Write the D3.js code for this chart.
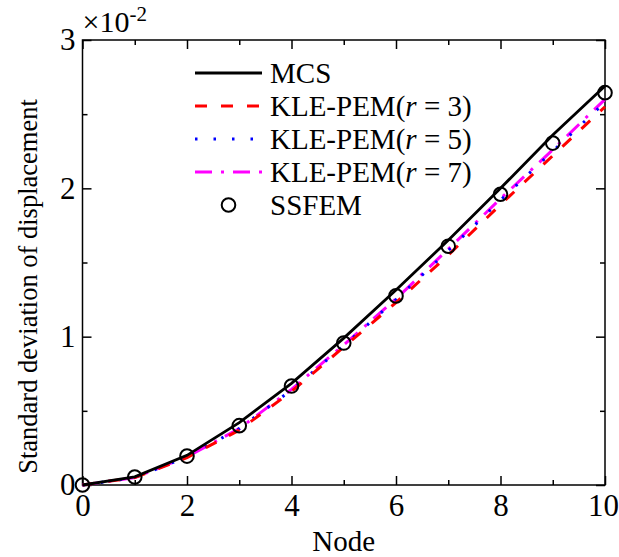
<!DOCTYPE html>
<html>
<head>
<meta charset="utf-8">
<script src="https://cdn.jsdelivr.net/npm/d3@7"></script>
<style>
  body { margin: 0; background: #fff; }
  svg text { font-family: "Liberation Serif", "Times New Roman", serif; fill: #000; }
</style>
</head>
<body>
<div id="chart"></div>
<script>
// nodes 0..10
var nodes = [0, 1, 2, 3, 4, 5, 6, 7, 8, 9, 10];
// values in units of 1e-2
var mcs   = [0, 0.055, 0.20, 0.42, 0.685, 0.99, 1.315, 1.65, 2.00, 2.36, 2.69];
var pemR3 = [0, 0.05, 0.185, 0.37, 0.63, 0.93, 1.23, 1.55, 1.89, 2.22, 2.55];
var pemR5 = [0, 0.05, 0.19, 0.38, 0.64, 0.94, 1.25, 1.58, 1.92, 2.25, 2.58];
var pemR7 = [0, 0.05, 0.19, 0.38, 0.645, 0.945, 1.255, 1.59, 1.93, 2.26, 2.60];
var ssfem = [0, 0.054, 0.195, 0.40, 0.667, 0.957, 1.275, 1.61, 1.96, 2.305, 2.645];

var xTicks = [0, 2, 4, 6, 8, 10];
var xMinor = [1, 3, 5, 7, 9];
var yTicks = [0, 1, 2, 3];
var yMinor = [0.5, 1.5, 2.5];

var seriesNames = ["MCS", "KLE-PEM(r = 3)", "KLE-PEM(r = 5)", "KLE-PEM(r = 7)", "SSFEM"];

var W = 619, H = 557;
// plot box (note: "top" is reserved on window, so use a margin object)
var box = { l: 82.5, r: 605, t: 40, b: 485 };

var svg = d3.select("#chart").append("svg")
    .attr("width", W)
    .attr("height", H);

var x = d3.scaleLinear().domain([0, 10]).range([box.l, box.r]);
var y = d3.scaleLinear().domain([0, 3]).range([box.b, box.t]);

var fontSize = 29;
var tickFont = 31;

// frame
svg.append("rect")
    .attr("x", box.l).attr("y", box.t)
    .attr("width", box.r - box.l).attr("height", box.b - box.t)
    .attr("fill", "none").attr("stroke", "#000").attr("stroke-width", 1.5);

// axes, ticks pointing in
function styleAxis(g) {
  g.select(".domain").remove();
  g.selectAll("line").attr("stroke", "#000").attr("stroke-width", 1.5);
  g.selectAll("text").style("font-size", tickFont + "px")
    .style("font-family", "Liberation Serif, Times New Roman, serif");
}

svg.append("g").attr("transform", "translate(0," + box.b + ")")
  .call(d3.axisBottom(x).tickValues(xTicks).tickSize(-9).tickPadding(9).tickFormat(d3.format("d")))
  .call(styleAxis)
  .selectAll("text").filter(function(d) { return d === 10; }).attr("dx", -2);
svg.append("g").attr("transform", "translate(0," + box.b + ")")
  .call(d3.axisBottom(x).tickValues(xMinor).tickSize(-5).tickFormat(""))
  .call(styleAxis);
svg.append("g").attr("transform", "translate(0," + box.t + ")")
  .call(d3.axisTop(x).tickValues(xTicks).tickSize(-9).tickFormat(""))
  .call(styleAxis);
svg.append("g").attr("transform", "translate(0," + box.t + ")")
  .call(d3.axisTop(x).tickValues(xMinor).tickSize(-5).tickFormat(""))
  .call(styleAxis);

svg.append("g").attr("transform", "translate(" + box.l + ",0)")
  .call(d3.axisLeft(y).tickValues(yTicks).tickSize(-9).tickPadding(7).tickFormat(d3.format("d")))
  .call(styleAxis);
svg.append("g").attr("transform", "translate(" + box.l + ",0)")
  .call(d3.axisLeft(y).tickValues(yMinor).tickSize(-5).tickFormat(""))
  .call(styleAxis);
svg.append("g").attr("transform", "translate(" + box.r + ",0)")
  .call(d3.axisRight(y).tickValues(yTicks).tickSize(-9).tickFormat(""))
  .call(styleAxis);
svg.append("g").attr("transform", "translate(" + box.r + ",0)")
  .call(d3.axisRight(y).tickValues(yMinor).tickSize(-5).tickFormat(""))
  .call(styleAxis);

// exponent label
var ex = svg.append("text")
    .attr("x", box.l).attr("y", 32)
    .style("font-size", "30px");
ex.append("tspan").text("\u00d710");
ex.append("tspan").attr("dy", -11).style("font-size", "21px").text("-2");

// axis titles
svg.append("text")
    .attr("x", (box.l + box.r) / 2).attr("y", 551)
    .attr("text-anchor", "middle")
    .style("font-size", fontSize + "px")
    .text("Node");

svg.append("text")
    .attr("transform", "translate(37," + ((box.t + box.b) / 2 + 24) + ") rotate(-90)")
    .attr("text-anchor", "middle")
    .style("font-size", "26.5px")
    .text("Standard deviation of displacement");

// lines
var styles = [
  { data: mcs,   color: "#000",    width: 2.8, dash: null },
  { data: pemR3, color: "#ff0000", width: 3,   dash: "12,14" },
  { data: pemR5, color: "#0000ff", width: 3,   dash: "2.5,16" },
  { data: pemR7, color: "#ff00ff", width: 3,   dash: "17,9,3,9" }
];

var line = d3.line()
    .x(function(d, i) { return x(nodes[i]); })
    .y(function(d) { return y(d); });

var plot = svg.append("g");
// draw the KLE lines first, MCS on top
[3, 2, 1, 0].forEach(function(k) {
  var s = styles[k];
  plot.append("path")
      .datum(s.data)
      .attr("d", line)
      .attr("fill", "none")
      .attr("stroke", s.color)
      .attr("stroke-width", s.width)
      .attr("stroke-dasharray", s.dash);
});

plot.selectAll("circle.ssfem")
    .data(ssfem)
    .enter().append("circle")
    .attr("class", "ssfem")
    .attr("cx", function(d, i) { return x(nodes[i]); })
    .attr("cy", function(d) { return y(d); })
    .attr("r", 6.8)
    .attr("fill", "none")
    .attr("stroke", "#000")
    .attr("stroke-width", 2);

// legend
var legY = d3.scalePoint().domain(seriesNames).range([73, 205]);
var lx0 = 195, lx1 = 262, tx = 270;
var leg = svg.append("g");
seriesNames.forEach(function(name, i) {
  var yy = legY(name);
  if (i < 4) {
    var s = styles[i];
    leg.append("line")
        .attr("x1", lx0).attr("x2", lx1).attr("y1", yy).attr("y2", yy)
        .attr("stroke", s.color).attr("stroke-width", s.width)
        .attr("stroke-dasharray", s.dash);
  } else {
    leg.append("circle")
        .attr("cx", (lx0 + lx1) / 2).attr("cy", yy).attr("r", 6.8)
        .attr("fill", "none").attr("stroke", "#000").attr("stroke-width", 2);
  }
  var t = leg.append("text")
      .attr("x", tx).attr("y", yy).attr("dy", "0.35em")
      .style("font-size", fontSize + "px");
  var m = name.match(/^(.*\()r( = \d\))$/);
  if (m) {
    t.append("tspan").text(m[1]);
    t.append("tspan").style("font-style", "italic").text("r");
    t.append("tspan").text(m[2]);
  } else {
    t.text(name);
  }
});
</script>
</body>
</html>
